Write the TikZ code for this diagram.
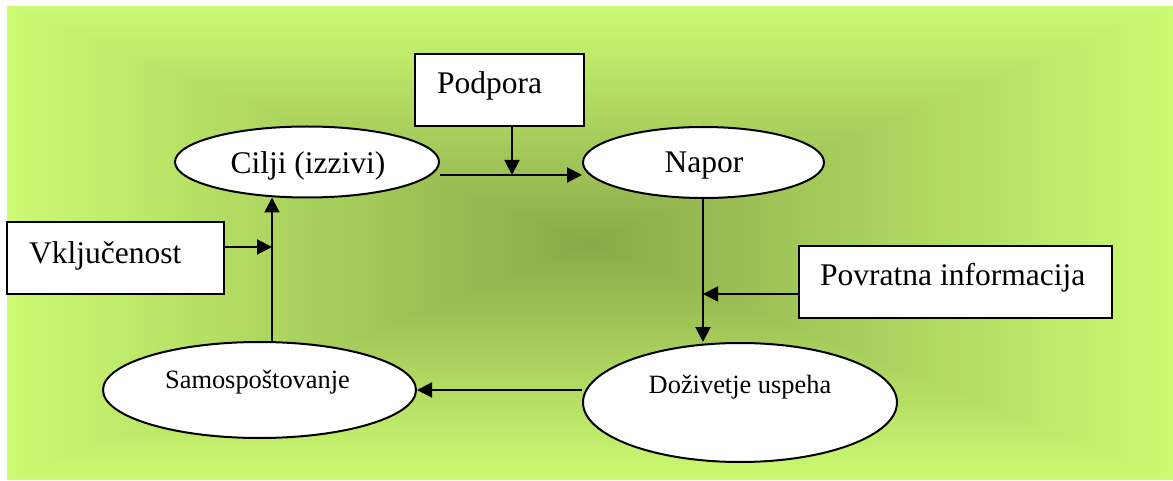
\documentclass[tikz,border=0pt]{standalone}
\usepackage{fontspec}
\setmainfont{Liberation Serif}
\usetikzlibrary{shapes.geometric,arrows.meta}

\definecolor{bgouter}{RGB}{204,250,114}
\definecolor{bginner}{RGB}{138,170,74}

\tikzset{
  ellip/.style={ellipse, draw, line width=2pt, fill=white, inner sep=0pt},
  boxnode/.style={rectangle, draw, line width=2pt, fill=white, inner sep=0pt},
  bigtext/.style={inner sep=0pt, font=\fontsize{31.5}{36}\selectfont},
  smalltext/.style={inner sep=0pt, font=\fontsize{26.4}{30}\selectfont},
  arr/.style={line width=2pt, -{Triangle[length=15pt,width=15pt]}}
}

\begin{document}
\begin{tikzpicture}[x=1pt,y=-1pt]
  \useasboundingbox (0,0) rectangle (1173,481);
  \fill[white] (0,0) rectangle (1173,481);

  % rectangular gradient background, darker towards the middle
  \foreach \i in {0,...,89}{
    \pgfmathsetmacro\s{1-\i/90}
    \pgfmathsetmacro\p{100*\i/89}
    \fill[color=bginner!\p!bgouter]
      ({590-583*\s},{243-237*\s}) rectangle ({590+583*\s},{243+237*\s});
  }

  % shapes
  \node[ellip, minimum width=264pt, minimum height=71pt] (cilji) at (307,162) {};
  \node[ellip, minimum width=241pt, minimum height=71pt] (napor) at (703.5,162.5) {};
  \node[ellip, minimum width=314pt, minimum height=119pt] (dozivetje) at (740,402.5) {};
  \node[ellip, minimum width=313pt, minimum height=96pt] (samo) at (259.5,390) {};

  \node[boxnode, minimum width=169pt, minimum height=72pt] (podpora) at (499.5,90) {};
  \node[boxnode, minimum width=217pt, minimum height=72pt] (vklj) at (115.5,258) {};
  \node[boxnode, minimum width=313pt, minimum height=72pt] (povr) at (955.5,282) {};

  % texts
  \node[bigtext, anchor=base west] (tpodpora) at (437,94) {Podpora};
  \node[bigtext, anchor=base] (tcilji) at (308,174) {Cilji (izzivi)};
  \node[bigtext, anchor=base] (tnapor) at (704,173) {Napor};
  \node[bigtext, anchor=base west] (tvklj) at (29,263) {Vključenost};
  \node[bigtext, anchor=base west] (tpovr) at (820,286) {Povratna informacija};
  \node[smalltext, anchor=base] (tsamo) at (257.5,388) {Samospoštovanje};
  \node[smalltext, anchor=base] (tdoz) at (740,393) {Doživetje uspeha};

  % junction points where side arrows meet the cycle
  \coordinate (j1) at (512,175);
  \coordinate (j2) at (703,294);
  \coordinate (j3) at (272,247);

  % connectors
  \draw[arr] (cilji.east |- j1) -- (napor.west |- j1);
  \draw[arr] (podpora.south -| j1) -- (j1);
  \draw[arr] (napor.south -| j2) -- (dozivetje.north -| j2);
  \draw[arr] (povr.west |- j2) -- (j2);
  \draw[arr] (samo.east -| dozivetje.west) -- (samo.east);
  \draw[arr] (samo.north -| j3) -- ([yshift=1pt]cilji.south -| j3);
  \draw[arr] (vklj.east |- j3) -- (j3);
\end{tikzpicture}
\end{document}
